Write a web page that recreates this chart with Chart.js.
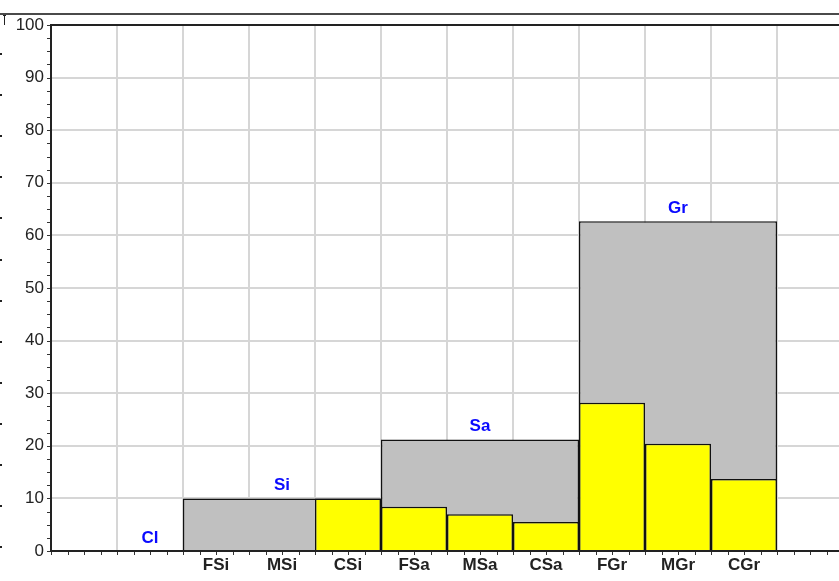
<!DOCTYPE html>
<html><head><meta charset="utf-8">
<script src="https://cdn.jsdelivr.net/npm/chart.js@4/dist/chart.umd.min.js"></script>
<style>html,body{margin:0;padding:0;overflow:hidden;background:#fff}#wrap{width:843px;height:581px}</style>
</head><body><div id="wrap"><canvas id="c" width="843" height="581"></canvas></div>
<script>
// ---- data ----
const categories = ['', '', 'FSi', 'MSi', 'CSi', 'FSa', 'MSa', 'CSa', 'FGr', 'MGr', 'CGr', ''];
const fractionValues = [null, 0, 0, 0, 10, 8.4, 7.0, 5.5, 28.2, 20.4, 13.7, null];
const groupNames = ['Cl', 'Si', 'Sa', 'Gr'];
const groupTotals = [0, 10, 21.2, 62.7];
const groupFirst = [1, 2, 5, 8];
const groupLast = [1, 4, 7, 10];
const yMin = 0, yMax = 100, yStep = 10;

function groupOf(i) {
  for (let g = 0; g < groupNames.length; g++) if (i >= groupFirst[g] && i <= groupLast[g]) return g;
  return -1;
}
const groupValues = categories.map((c, i) => {
  const g = groupOf(i);
  return g >= 0 && groupTotals[g] > 0 ? groupTotals[g] : null;
});

const FONT = '"Liberation Sans", Arial, sans-serif';
const BW = 1.5;

const decor = {
  id: 'decor',
  afterDraw(chart) {
    const ctx = chart.ctx, a = chart.chartArea, x = chart.scales.x, y = chart.scales.y;
    ctx.save();
    // frame line at top
    ctx.strokeStyle = '#4a4a4a'; ctx.lineWidth = 2;
    ctx.beginPath(); ctx.moveTo(0, 14); ctx.lineTo(chart.width, 14); ctx.stroke();
    // small mark at top-left
    ctx.strokeStyle = '#222'; ctx.lineWidth = 1;
    ctx.beginPath(); ctx.moveTo(4.5, 15); ctx.lineTo(4.5, 25); ctx.moveTo(3, 15.5); ctx.lineTo(6, 15.5); ctx.stroke();
    // plot top border
    ctx.strokeStyle = '#222'; ctx.lineWidth = 2;
    ctx.beginPath(); ctx.moveTo(a.left - 1, a.top); ctx.lineTo(chart.width, a.top); ctx.stroke();
    // minor ticks on y axis
    ctx.lineWidth = 1; ctx.strokeStyle = '#333';
    ctx.beginPath();
    for (let v = yMin; v <= yMax; v += yStep / 4) {
      const py = Math.round(y.getPixelForValue(v)) + 0.5;
      ctx.moveTo(a.left - 4, py); ctx.lineTo(a.left - 1, py);
    }
    // minor ticks on x axis
    const colW = (a.right - a.left) / categories.length;
    for (let k = 0; k <= categories.length * 4; k++) {
      const px = Math.round(a.left + k * colW / 4) + 0.5;
      ctx.moveTo(px, a.bottom + 1); ctx.lineTo(px, a.bottom + 4);
    }
    ctx.stroke();
    // group labels
    ctx.fillStyle = '#0a0aff';
    ctx.font = 'bold 17px ' + FONT;
    ctx.textAlign = 'center'; ctx.textBaseline = 'alphabetic';
    groupNames.forEach((n, g) => {
      const cx = (x.getPixelForValue(groupFirst[g]) + x.getPixelForValue(groupLast[g])) / 2;
      const py = y.getPixelForValue(groupTotals[g]) - 8;
      ctx.fillText(n, cx, py);
    });
    // dots at far left
    ctx.fillStyle = '#222';
    for (let k = 0; k < 13; k++) ctx.fillRect(0, Math.round(53 + k * 41.1), 2, 2);
    ctx.restore();
  }
};

new Chart(document.getElementById('c'), {
  type: 'bar',
  data: {
    labels: categories,
    datasets: [
      {
        label: 'fractions',
        data: fractionValues,
        backgroundColor: ctx => (ctx.raw ? '#ffff00' : 'rgba(0,0,0,0)'),
        borderColor: '#111',
        borderWidth: ctx => (ctx.raw ? BW : 0),
        borderSkipped: 'start',
        grouped: false,
        order: 0,
        inflateAmount: 0,
        barPercentage: 1, categoryPercentage: 1
      },
      {
        label: 'groups',
        data: groupValues,
        backgroundColor: '#c0c0c0',
        borderColor: '#111',
        borderSkipped: false,
        borderWidth: ctx => {
          const i = ctx.dataIndex, g = groupOf(i);
          if (g < 0 || !groupValues[i]) return 0;
          return { top: BW, bottom: 0, left: i === groupFirst[g] ? BW : 0, right: i === groupLast[g] ? BW : 0 };
        },
        grouped: false,
        order: 1,
        inflateAmount: 0,
        barPercentage: 1, categoryPercentage: 1
      }
    ]
  },
  options: {
    responsive: false,
    animation: false,
    layout: { padding: { top: 25, right: 0, bottom: 0, left: 0 } },
    plugins: { legend: { display: false }, tooltip: { enabled: false } },
    scales: {
      x: {
        type: 'category',
        offset: true,
        grid: { offset: true, color: '#d6d6d6', lineWidth: 2, drawTicks: false },
        border: { color: '#222', width: 2 },
        ticks: { color: '#222', font: { family: FONT, size: 17, weight: 'bold' }, padding: 4, maxRotation: 0, autoSkip: false },
        afterFit: s => { s.height = 30; }
      },
      y: {
        min: yMin, max: yMax,
        grid: { color: '#d6d6d6', lineWidth: 2, drawTicks: false },
        border: { color: '#222', width: 2 },
        ticks: { stepSize: yStep, color: '#222', font: { family: FONT, size: 17 }, padding: 7 },
        afterFit: s => { s.width = 51; }
      }
    }
  },
  plugins: [decor]
});
</script>
</body></html>
